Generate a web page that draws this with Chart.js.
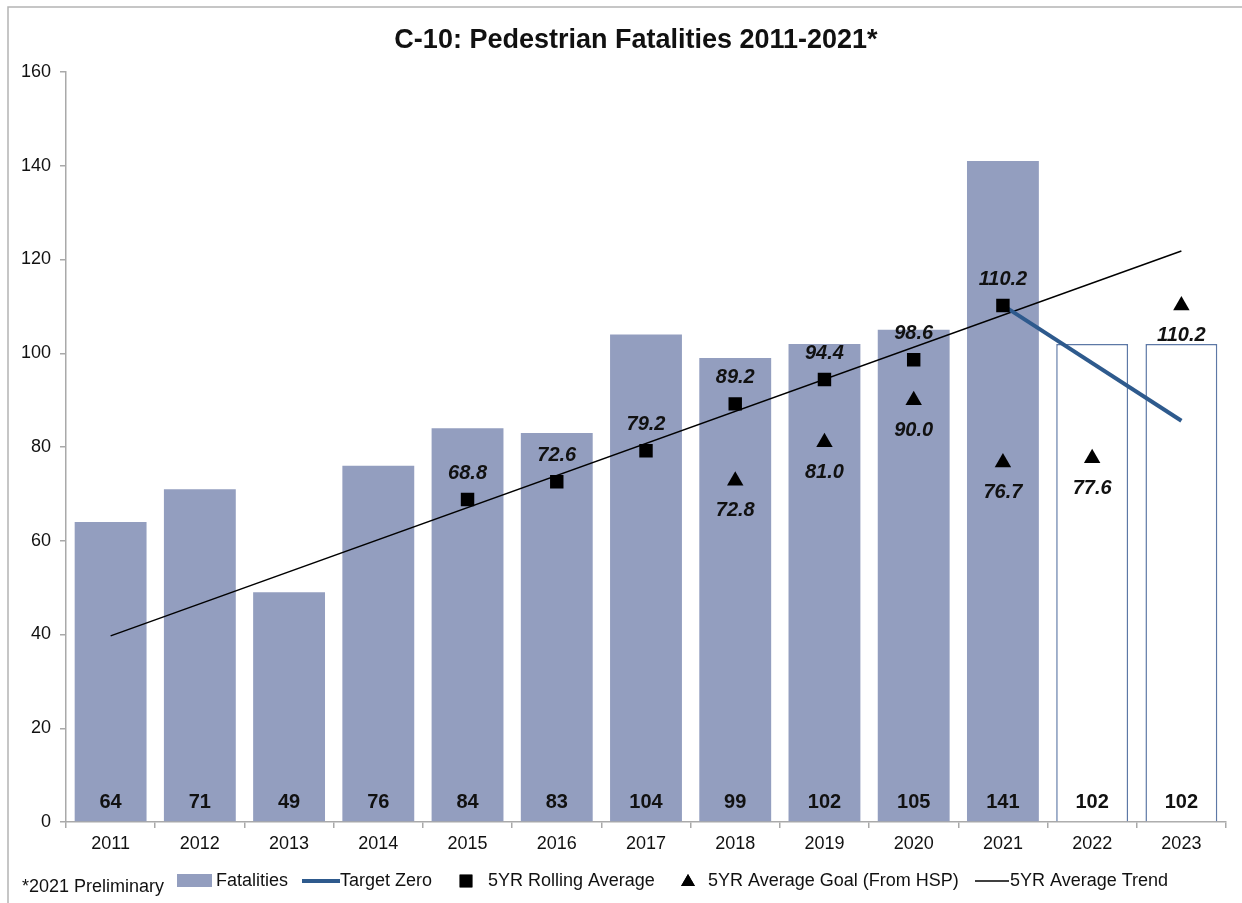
<!DOCTYPE html>
<html>
<head>
<meta charset="utf-8">
<script src="https://cdn.jsdelivr.net/npm/chart.js@4.4.0/dist/chart.umd.min.js"></script>
<style>
  html, body { margin: 0; padding: 0; background: #fff; }
  #wrap { width: 1242px; height: 903px; position: relative; }
</style>
</head>
<body>
<div id="wrap"><canvas id="c10"></canvas></div>
<script>
// chart values
var years = ['2011','2012','2013','2014','2015','2016','2017','2018','2019','2020','2021','2022','2023'];
var fatalities = [64, 71, 49, 76, 84, 83, 104, 99, 102, 105, 141, 102, 102];
var rollingAvg = [null, null, null, null, 68.8, 72.6, 79.2, 89.2, 94.4, 98.6, 110.2, null, null];
var avgGoal = [null, null, null, null, null, null, null, 72.8, 81.0, 90.0, 76.7, 77.6, 110.2];
var targetZero = [{x: '2021', y: 110.2}, {x: '2023', y: 85.6}];
var avgTrend = [{x: '2011', y: 39.7}, {x: '2023', y: 121.8}];
var yTicks = [0, 20, 40, 60, 80, 100, 120, 140, 160];

var FONT = "'Liberation Sans', Arial, sans-serif";
var barFill = '#939ebf';
var targetBlue = '#2e5a8d';

// bars for 2022/2023 are goals, drawn hollow
var barBg = years.map(function(y){ return (y === '2022' || y === '2023') ? '#ffffff' : barFill; });
var barBorder = years.map(function(y){ return (y === '2022' || y === '2023') ? '#5d78a6' : barFill; });
var barBorderW = years.map(function(y){ return (y === '2022' || y === '2023') ? 1.5 : 0; });

var extras = {
  id: 'extras',
  afterDatasetsDraw: function(chart) {
    var ctx = chart.ctx;
    var ys = chart.scales.y;
    ctx.save();
    ctx.fillStyle = '#111';
    ctx.textAlign = 'center';
    ctx.textBaseline = 'middle';

    // bar value labels at the bottom of each bar
    ctx.font = 'bold 20px ' + FONT;
    chart.getDatasetMeta(0).data.forEach(function(el, i){
      ctx.fillText(String(fatalities[i]), el.x, ys.getPixelForValue(0) - 20);
    });

    // rolling average labels above squares
    ctx.font = 'italic bold 20px ' + FONT;
    chart.getDatasetMeta(3).data.forEach(function(el, i){
      if (rollingAvg[i] === null) return;
      ctx.fillText(rollingAvg[i].toFixed(1), el.x, el.y - 26);
    });
    // goal labels below triangles
    chart.getDatasetMeta(4).data.forEach(function(el, i){
      if (avgGoal[i] === null) return;
      ctx.fillText(avgGoal[i].toFixed(1), el.x, el.y + 30);
    });
    ctx.restore();
  },
  afterDraw: function(chart) {
    var ctx = chart.ctx;
    ctx.save();
    // frame
    ctx.strokeStyle = '#b4b4b4';
    ctx.lineWidth = 1.5;
    ctx.beginPath();
    ctx.moveTo(8, 903); ctx.lineTo(8, 7); ctx.lineTo(1242, 7);
    ctx.stroke();

    // title
    ctx.fillStyle = '#111';
    ctx.font = 'bold 27px ' + FONT;
    ctx.textAlign = 'center';
    ctx.textBaseline = 'middle';
    ctx.fillText('C-10: Pedestrian Fatalities 2011-2021*', 636, 41);

    // footnote
    ctx.textAlign = 'left';
    ctx.font = '18px ' + FONT;
    ctx.fillText('*2021 Preliminary', 22, 887);

    // legend
    var ly = 881;
    ctx.fillStyle = barFill;
    ctx.fillRect(177, ly - 7, 35, 13);
    ctx.fillStyle = '#111';
    ctx.fillText('Fatalities', 216, ly);

    ctx.strokeStyle = targetBlue;
    ctx.lineWidth = 4;
    ctx.beginPath(); ctx.moveTo(302, ly); ctx.lineTo(340, ly); ctx.stroke();
    ctx.fillText('Target Zero', 340, ly);

    ctx.fillStyle = '#000';
    Chart.helpers.drawPoint(ctx, {pointStyle: 'rect', radius: 9, rotation: 0, borderWidth: 0}, 466, ly);
    ctx.fill();
    ctx.fillStyle = '#111';
    ctx.fillText('5YR Rolling Average', 488, ly);

    ctx.fillStyle = '#000';
    Chart.helpers.drawPoint(ctx, {pointStyle: 'triangle', radius: 8, rotation: 0, borderWidth: 0}, 688, ly + 1);
    ctx.fill();
    ctx.fillStyle = '#111';
    ctx.fillText('5YR Average Goal (From HSP)', 708, ly);

    ctx.strokeStyle = '#000';
    ctx.lineWidth = 1.5;
    ctx.beginPath(); ctx.moveTo(975, ly); ctx.lineTo(1009, ly); ctx.stroke();
    ctx.fillText('5YR Average Trend', 1010, ly);
    ctx.restore();
  }
};

var ctx = document.getElementById('c10');
var chart = new Chart(ctx, {
  type: 'bar',
  data: {
    labels: years,
    datasets: [
      {
        label: 'Fatalities',
        data: fatalities,
        backgroundColor: barBg,
        borderColor: barBorder,
        borderWidth: barBorderW,
        barPercentage: 0.9,
        categoryPercentage: 0.895,
        order: 5
      },
      {
        type: 'line',
        label: '5YR Average Trend',
        data: avgTrend,
        borderColor: '#000',
        borderWidth: 1.5,
        pointRadius: 0,
        order: 3
      },
      {
        type: 'line',
        label: 'Target Zero',
        data: targetZero,
        borderColor: targetBlue,
        borderWidth: 4,
        pointRadius: 0,
        order: 2
      },
      {
        type: 'line',
        label: '5YR Rolling Average',
        data: rollingAvg,
        showLine: false,
        pointStyle: 'rect',
        pointRadius: 9.5,
        pointBackgroundColor: '#000',
        pointBorderWidth: 0,
        order: 1
      },
      {
        type: 'line',
        label: '5YR Average Goal (From HSP)',
        data: avgGoal,
        showLine: false,
        pointStyle: 'triangle',
        pointRadius: 9.5,
        pointBackgroundColor: '#000',
        pointBorderWidth: 0,
        order: 1
      }
    ]
  },
  options: {
    responsive: true,
    maintainAspectRatio: false,
    animation: false,
    layout: { padding: { top: 72, left: 8, right: 16, bottom: 41 } },
    plugins: {
      legend: { display: false },
      title: { display: false },
      tooltip: { enabled: false }
    },
    scales: {
      x: {
        offset: true,
        grid: { offset: true, drawOnChartArea: false, drawTicks: true, tickLength: 6, color: '#a9a9a9', lineWidth: 1.5 },
        border: { color: '#a9a9a9', width: 1.5 },
        ticks: { color: '#111', font: { family: FONT, size: 18 }, padding: 5, maxRotation: 0 },
        afterFit: function(s){ s.height = 40; }
      },
      y: {
        min: 0,
        max: 160,
        afterBuildTicks: function(s){ s.ticks = yTicks.map(function(v){ return {value: v}; }); },
        grid: { drawOnChartArea: false, drawTicks: true, tickLength: 6, color: '#a9a9a9', lineWidth: 1.5 },
        border: { color: '#a9a9a9', width: 1.5 },
        ticks: { color: '#111', font: { family: FONT, size: 18 }, padding: 9 },
        afterFit: function(s){ s.width = 58; }
      }
    }
  },
  plugins: [extras]
});
</script>
</body>
</html>
